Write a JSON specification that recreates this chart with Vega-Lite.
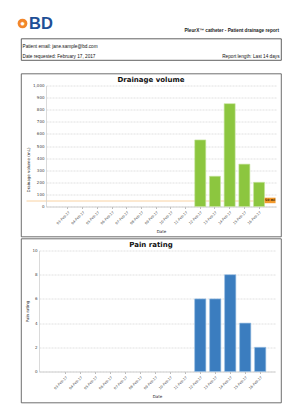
{
  "$schema": "https://vega.github.io/schema/vega-lite/v6.json",
  "background": "white",
  "padding": {"left": 17, "top": 14.5, "right": 0, "bottom": 0},
  "datasets": {
    "logo": [{"brand": "BD", "mark": "✹", "report": "PleurX™ catheter - Patient drainage report"}],
    "header": [
      {"line": "email", "side": "left", "text": "Patient email: jane.sample@bd.com"},
      {"line": "date", "side": "left", "text": "Date requested: February 17, 2017"},
      {"line": "date", "side": "right", "text": "Report length: Last 14 days"}
    ],
    "drainage": [
      {"date": "03-Feb-17", "volume": 0},
      {"date": "04-Feb-17", "volume": 0},
      {"date": "05-Feb-17", "volume": 0},
      {"date": "06-Feb-17", "volume": 0},
      {"date": "07-Feb-17", "volume": 0},
      {"date": "08-Feb-17", "volume": 0},
      {"date": "09-Feb-17", "volume": 0},
      {"date": "10-Feb-17", "volume": 0},
      {"date": "11-Feb-17", "volume": 0},
      {"date": "12-Feb-17", "volume": 550},
      {"date": "13-Feb-17", "volume": 250},
      {"date": "14-Feb-17", "volume": 850},
      {"date": "15-Feb-17", "volume": 350},
      {"date": "16-Feb-17", "volume": 200}
    ],
    "threshold": [{"threshold": 50, "label": "50 ml", "date": "16-Feb-17"}],
    "pain": [
      {"date": "03-Feb-17", "rating": 0},
      {"date": "04-Feb-17", "rating": 0},
      {"date": "05-Feb-17", "rating": 0},
      {"date": "06-Feb-17", "rating": 0},
      {"date": "07-Feb-17", "rating": 0},
      {"date": "08-Feb-17", "rating": 0},
      {"date": "09-Feb-17", "rating": 0},
      {"date": "10-Feb-17", "rating": 0},
      {"date": "11-Feb-17", "rating": 0},
      {"date": "12-Feb-17", "rating": 6},
      {"date": "13-Feb-17", "rating": 6},
      {"date": "14-Feb-17", "rating": 8},
      {"date": "15-Feb-17", "rating": 4},
      {"date": "16-Feb-17", "rating": 2}
    ]
  },
  "columns": 1,
  "align": "each",
  "spacing": 12,
  "concat": [
    {
      "width": 260,
      "height": 21.5,
      "view": {"stroke": "#3a3a3a", "strokeWidth": 0.8},
      "layer": [
        {
          "data": {"name": "header"},
          "transform": [{"filter": "datum.side == 'left'"}],
          "mark": {"type": "text", "align": "left", "baseline": "alphabetic", "dx": 1.5, "dy": 3.7, "font": "Liberation Sans", "fontSize": 4.7, "color": "#111"},
          "encoding": {
            "x": {"field": "side", "type": "nominal", "scale": {"type": "point", "domain": ["left", "right"], "padding": 0}, "axis": null},
            "y": {"field": "line", "type": "nominal", "scale": {"type": "point", "domain": ["email", "date"], "padding": 0.62}, "axis": null},
            "text": {"field": "text"}
          }
        },
        {
          "data": {"name": "header"},
          "transform": [{"filter": "datum.side == 'right'"}],
          "mark": {"type": "text", "align": "right", "baseline": "alphabetic", "dx": -1.5, "dy": 3.7, "font": "Liberation Sans", "fontSize": 4.7, "color": "#111"},
          "encoding": {
            "x": {"field": "side", "type": "nominal", "axis": null},
            "y": {"field": "line", "type": "nominal", "axis": null},
            "text": {"field": "text"}
          }
        },
        {
          "data": {"name": "logo"},
          "mark": {"type": "point", "filled": true, "color": "#f2862a", "opacity": 1, "size": 95, "xOffset": 1.5, "yOffset": -25.75},
          "encoding": {"x": {"datum": "left", "axis": null}}
        },
        {
          "data": {"name": "logo"},
          "mark": {"type": "text", "align": "center", "baseline": "middle", "dx": 1.5, "dy": -25.5, "fontSize": 6, "color": "white"},
          "encoding": {"x": {"datum": "left", "axis": null}, "text": {"field": "mark"}}
        },
        {
          "data": {"name": "logo"},
          "mark": {"type": "text", "align": "left", "baseline": "alphabetic", "dx": 8, "dy": -20.75, "font": "Liberation Sans", "fontSize": 16.5, "fontWeight": "bold", "color": "#1f4f96"},
          "encoding": {"x": {"datum": "left", "axis": null}, "text": {"field": "brand"}}
        },
        {
          "data": {"name": "logo"},
          "mark": {"type": "text", "align": "right", "baseline": "alphabetic", "dx": -2, "dy": -17.75, "font": "Liberation Sans", "fontSize": 4.7, "fontWeight": "bold", "color": "#222"},
          "encoding": {"x": {"datum": "right", "axis": null}, "text": {"field": "report"}}
        }
      ]
    },
    {
      "columns": 1,
      "align": "each",
      "spacing": 0,
      "concat": [
        {
          "width": 260,
          "height": 163,
          "view": {"stroke": "#4a4a4a", "strokeWidth": 0.8},
          "title": {"text": "Drainage volume", "font": "DejaVu Sans", "fontSize": 7, "fontWeight": "bold", "color": "#111", "offset": -9},
          "resolve": {"axis": {"y": "independent"}},
          "layer": [
            {
              "data": {"name": "drainage"},
              "mark": {"type": "bar", "color": "#8cc63f", "stroke": "#c6e49c", "strokeWidth": 0.6},
              "encoding": {
                "x": {"field": "date", "type": "ordinal", "sort": null, "title": "Date",
                      "scale": {"range": [25, 255], "paddingInner": 0.252, "paddingOuter": 0.949, "align": 0.59},
                      "axis": {"offset": -30}},
                "y": {"field": "volume", "type": "quantitative", "title": "Drainage volume (mL)",
                      "scale": {"domain": [0, 1000], "range": [133, 12]},
                      "axis": {"orient": "left", "offset": -25, "values": [0, 100, 200, 300, 400, 500, 600, 700, 800, 900, 1000], "format": ",d", "titleY": 96}},
                "strokeOpacity": {"condition": {"test": "datum.volume > 0", "value": 1}, "value": 0}
              }
            },
            {
              "data": {"name": "threshold"},
              "mark": {"type": "point", "shape": "M-1,-0.5H1V0.5H-1Z", "filled": true, "color": "#f39a2c", "opacity": 1, "size": 121, "xOffset": 11},
              "encoding": {
                "x": {"field": "date", "type": "ordinal", "title": "Date", "axis": {"offset": -30}},
                "y": {"field": "threshold", "type": "quantitative",
                      "axis": {"orient": "right", "values": [50], "grid": true, "gridColor": "#f8c68c", "gridDash": [], "gridWidth": 0.8, "labels": false, "ticks": false, "domain": false, "title": null}}
              }
            },
            {
              "data": {"name": "threshold"},
              "mark": {"type": "text", "align": "center", "baseline": "middle", "dx": 11, "fontSize": 3.2, "fontWeight": "bold", "color": "#3a2000"},
              "encoding": {
                "x": {"field": "date", "type": "ordinal", "title": "Date", "axis": {"offset": -30}},
                "y": {"field": "threshold", "type": "quantitative", "axis": null},
                "text": {"field": "label"}
              }
            }
          ]
        },
        {
          "width": 260,
          "height": 164,
          "view": {"stroke": "#4a4a4a", "strokeWidth": 0.8},
          "title": {"text": "Pain rating", "font": "DejaVu Sans", "fontSize": 7, "fontWeight": "bold", "color": "#111", "offset": -9},
          "data": {"name": "pain"},
          "mark": {"type": "bar", "color": "#3b7dbf", "stroke": "#95bde2", "strokeWidth": 0.6},
          "encoding": {
            "x": {"field": "date", "type": "ordinal", "sort": null, "title": "Date",
                  "scale": {"range": [18, 254], "paddingInner": 0.252, "paddingOuter": 1.153, "align": 0.693},
                  "axis": {"offset": -31}},
            "y": {"field": "rating", "type": "quantitative", "title": "Pain rating",
                  "scale": {"domain": [0, 10], "range": [133, 12]},
                  "axis": {"offset": -18, "values": [0, 2, 4, 6, 8, 10]}},
            "strokeOpacity": {"condition": {"test": "datum.rating > 0", "value": 1}, "value": 0}
          }
        }
      ]
    }
  ],
  "config": {
    "font": "DejaVu Sans",
    "view": {"stroke": null},
    "axisX": {
      "labelAngle": -45, "labelFontSize": 3.4, "labelColor": "#444", "labelPadding": 1.5,
      "tickSize": 2, "tickColor": "#bbb", "domainColor": "#c8c8c8", "domainWidth": 0.8,
      "titleFontSize": 4, "titleFontWeight": "normal", "titleColor": "#222", "titlePadding": 5, "grid": false
    },
    "axisY": {
      "labelFontSize": 4, "labelColor": "#444", "labelPadding": 2,
      "tickSize": 0, "domainColor": "#d0d0d0", "domainWidth": 0.8,
      "grid": true, "gridColor": "#d4d4d4", "gridDash": [2, 1], "gridWidth": 0.7,
      "titleFontSize": 4, "titleFontWeight": "normal", "titleColor": "#222", "titlePadding": 2
    }
  }
}
